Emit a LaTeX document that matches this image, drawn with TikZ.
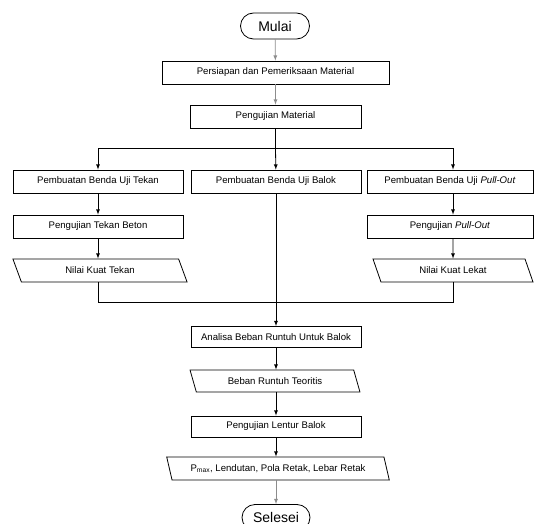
\documentclass[tikz,border=0pt]{standalone}
\usepackage{fontspec}
\setmainfont{Liberation Sans}
\usetikzlibrary{shapes.geometric}

\tikzset{
  proses/.style={draw, rectangle, minimum width=170pt, minimum height=23pt, inner sep=1pt, font=\fontsize{9.6}{11}\selectfont},
  masukan/.style={draw, trapezium, trapezium left angle=113, trapezium right angle=67, trapezium stretches=true, minimum width=175pt, minimum height=23pt, inner sep=1pt, font=\fontsize{9.6}{11}\selectfont},
  ujung/.style={draw, rectangle, rounded corners=13pt, minimum width=69pt, minimum height=26pt, inner sep=1pt, font=\fontsize{14}{16}\selectfont},
}

\begin{document}
\begin{tikzpicture}[x=1pt, y=-1pt, line width=0.8pt]
            \useasboundingbox (0, 0) rectangle (538, 524);
            \node[ujung](mulai) at (275, 26){Mulai};
            \node[proses, minimum width=227pt](persiapan) at (275.5, 72.5){Persiapan dan Pemeriksaan Material};
            \node[proses, minimum width=171pt](ujimaterial) at (275.5, 116.5){Pengujian Material};
            \coordinate(cabang) at (275.5, 148);
            \node[proses](bendatekan) at (98, 181.5){Pembuatan Benda Uji Tekan};
            \node[proses](bendabalok) at (276, 181.5){Pembuatan Benda Uji Balok};
            \node[proses, minimum width=166pt](bendapull) at (450, 181.5){Pembuatan Benda Uji \textit{Pull-Out}};
            \node[proses](ujitekan) at (98, 226.5){Pengujian Tekan Beton};
            \node[proses, minimum width=166pt](ujipull) at (450, 226.5){Pengujian \textit{Pull-Out}};
            \node[masukan](kuattekan) at (100, 270.5){Nilai Kuat Tekan};
            \node[masukan, minimum width=160pt](kuatlekat) at (453, 270.5){Nilai Kuat Lekat};
            \coordinate(gabung) at (276, 302);
            \node[proses, minimum height=21pt](analisa) at (276, 337){Analisa Beban Runtuh Untuk Balok};
            \node[masukan, minimum width=170pt, minimum height=22pt](teoritis) at (275, 381){Beban Runtuh Teoritis};
            \node[proses, minimum height=21pt](lentur) at (276, 426.5){Pengujian Lentur Balok};
            \node[masukan, minimum width=223pt](hasil) at (278, 468.5){P\textsubscript{max}, Lendutan, Pola Retak, Lebar Retak};
            \node[ujung, minimum width=68pt](selesai) at (276, 517.5){Selesei};
            % alur atas
            \draw[-latex, black!45](mulai)--(persiapan);
            \draw[-latex, black!45](persiapan)--(ujimaterial);
            \draw(ujimaterial)--(cabang);
            \draw[-latex](cabang)-|(bendatekan);
            \draw[-latex](cabang)-|(bendapull.north -| kuatlekat.north);
            \draw[-latex](cabang)--(bendabalok);
            \draw[-latex](bendatekan)--(ujitekan);
            \draw[-latex](ujitekan)--(ujitekan |- kuattekan.north);
            \draw[-latex](bendapull.south -| kuatlekat.north)--(ujipull.north -| kuatlekat.north);
            \draw[-latex](ujipull.south -| kuatlekat.north)--(kuatlekat);
            % alur gabung
            \draw(kuattekan.south -| ujitekan)|-(gabung);
            \draw(kuatlekat)|-(gabung);
            \draw[-latex](bendabalok)--(analisa);
            \draw[-latex](analisa)--(analisa |- teoritis.north);
            \draw[-latex](analisa |- teoritis.south)--(lentur);
            \draw[-latex](lentur)--(lentur |- hasil.north);
            \draw[-latex, black!45](lentur |- hasil.south)--(selesai);
        \end{tikzpicture}
\end{document}
